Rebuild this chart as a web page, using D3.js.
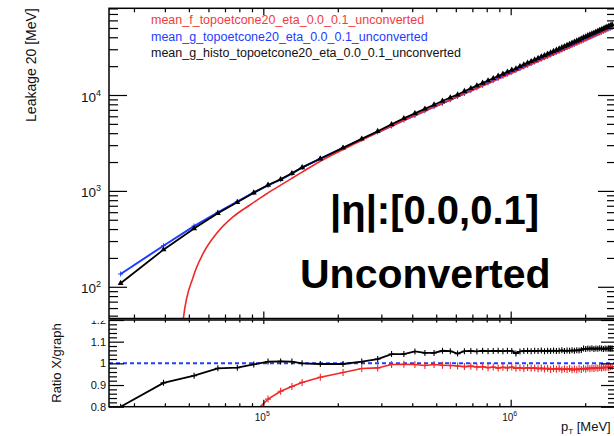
<!DOCTYPE html>
<html><head><meta charset="utf-8">
<script src="https://cdn.jsdelivr.net/npm/d3@7"></script>
<style>
body{margin:0;background:#fff;overflow:hidden}
svg{display:block;font-family:"Liberation Sans",Arial,Helvetica,sans-serif}
</style>
</head><body>
<svg id="c" width="614" height="436"></svg>
<script>
// ---------------- data (pT in MeV) ----------------
const pT = [26500,39500,52500,65500,78500,91500,104500,117500,130500,143500,
170000,210000,250000,290000,330000,370000,410000,450000,490000,530000,
570000,610000,650000,690000,730000,770000,810000,850000,890000,930000,
970000,1010000,1050000,1090000,1130000,1170000,1210000,1250000,1290000,1330000,
1370000,1410000,1450000,1490000,1530000,1570000,1610000,1650000,1690000,1730000,
1770000,1810000,1850000,1890000,1930000,1970000,2010000,2050000,2090000,2130000,
2170000,2210000,2250000,2290000,2330000,2370000,2410000,2450000,2490000,2530000,2570000];

// mean_g_topoetcone20 (blue graph)
const meanG = [136,268,430,598,775,962,1143,1309,1514,1754,
2174,2816,3457,4112,4746,5465,6105,6842,7550,8194,
8914,9637,10371,11112,11862,12612,13378,14137,14910,15690,
16467,17250,18042,18840,19645,20449,21257,22073,22889,23710,
24532,25362,26194,27027,27863,28709,29552,30404,31250,32111,
32983,33839,34705,35572,36443,37319,38198,39069,39953,40835,
41731,42611,43510,44394,45308,46185,47105,47995,48912,49801,50709];

// mean_g_histo_topoetcone20 (black)
const meanGHisto = [109,244,405,584,760,957,1152,1321,1526,1754,
2167,2808,3485,4194,4950,5700,6441,7170,7912,8669,
9413,10071,10952,11745,12514,13343,14127,14943,15775,16569,
17422,18233,18872,19876,20765,21635,22447,23353,24194,25109,
25906,26833,27687,28622,29451,30374,31325,32137,33094,33973,
34962,35802,36822,37671,38702,39857,40719,41765,42630,43693,
44485,45551,46425,47502,48389,49233,50355,51211,52336,53187,54208];

// mean_f_topoetcone20 (red function), sampled
const fitPt  = [46800,47500,52100,57200,64800,75600,88300,104500,117500,130500,143500,
170000,210000,250000,290000,330000,450000,610000,850000,1170000,1610000,2170000,2665000];
const fitVal = [25,46.6,127.5,224,361,538,713,954,1150,1355,1570,
2040,2700,3380,4050,4740,6800,9580,13900,20000,28800,40800,52050];

// ratio panel: X / graph
const ratioHisto = [0.800,0.910,0.943,0.977,0.980,0.995,1.008,1.009,1.008,1.000,
0.997,0.997,1.008,1.020,1.043,1.043,1.055,1.048,1.048,1.058,
1.056,1.045,1.056,1.057,1.055,1.058,1.056,1.057,1.058,1.056,
1.058,1.057,1.046,1.055,1.057,1.058,1.056,1.058,1.057,1.059,
1.056,1.058,1.057,1.059,1.057,1.058,1.060,1.057,1.059,1.058,
1.060,1.058,1.061,1.059,1.062,1.068,1.066,1.069,1.067,1.070,
1.066,1.069,1.067,1.070,1.068,1.066,1.069,1.067,1.070,1.068,1.069];
const ratioF = [null,null,0.31,0.62,0.74,0.77,0.835,0.871,0.893,0.912,
0.936,0.958,0.976,0.979,0.995,0.996,0.995,0.990,0.995,0.991,
0.990,0.988,0.985,0.987,0.983,0.985,0.980,0.983,0.978,0.982,
0.979,0.983,0.977,0.980,0.976,0.981,0.977,0.979,0.975,0.978,
0.974,0.977,0.972,0.976,0.973,0.977,0.971,0.975,0.972,0.976,
0.970,0.974,0.971,0.975,0.972,0.977,0.973,0.978,0.975,0.979,
0.976,0.980,0.977,0.981,0.978,0.982,0.980,0.983,0.981,0.984,0.985];
const ratioRef = 1.0;

// ticks & labels
const xMajor = [1e5, 1e6];
const xMajorExp = ["5", "6"];
const xMinor = [3e4,4e4,5e4,6e4,7e4,8e4,9e4,2e5,3e5,4e5,5e5,6e5,7e5,8e5,9e5,2e6];
const yMajor = [100, 1000, 10000];
const yMajorExp = ["2", "3", "4"];
const yMinor = [50,60,70,80,90,200,300,400,500,600,700,800,900,
2000,3000,4000,5000,6000,7000,8000,9000,20000,30000,40000,50000,60000,70000,80000];
const rMajor = [0.8, 0.9, 1.0, 1.1, 1.2];
const rMajorLabels = ["0.8", "0.9", "1", "1.1", "1.2"];
const rMinor = [0.82,0.84,0.86,0.88,0.92,0.94,0.96,0.98,1.02,1.04,1.06,1.08,1.12,1.14,1.16,1.18];

const legendLabels = ["mean_f_topoetcone20_eta_0.0_0.1_unconverted",
"mean_g_topoetcone20_eta_0.0_0.1_unconverted",
"mean_g_histo_topoetcone20_eta_0.0_0.1_unconverted"];
const legendColors = ["#f03c3c", "#1e3cff", "#111"];
const yTitle = "Leakage 20 [MeV]";
const rTitle = "Ratio X/graph";
const etaText = "|\u03b7|:[0.0,0.1]";
const convText = "Unconverted";

// ---------------- layout ----------------
const L = 109, R = 616, T = 8.3, B1 = 318.5, T2 = 320, B2 = 406.7;
const RED = "#f02828", BLUE = "#1f3cff";

const svg = d3.select("#c");
const x = d3.scaleLog().domain([23780, 2665000]).range([L, R]);
const y = d3.scaleLog().domain([46.7, 80200]).range([B1, T]);
const yr = d3.scaleLinear().domain([0.8, 1.2]).range([B2, T2]);

const defs = svg.append("defs");
defs.append("clipPath").attr("id", "cTop").append("rect").attr("x", L).attr("y", T).attr("width", R - L).attr("height", B1 - T);
defs.append("clipPath").attr("id", "cBot").append("rect").attr("x", L).attr("y", T2).attr("width", R - L).attr("height", B2 - T2);
defs.append("clipPath").attr("id", "cLbl").append("rect").attr("x", 0).attr("y", 320.8).attr("width", 614).attr("height", 120);

function axis(gen, scale, vals, size, tr) {
  svg.append("g").attr("transform", tr)
    .call(gen(scale).tickValues(vals).tickSize(size).tickSizeOuter(0).tickFormat(() => ""))
    .call(g => g.select(".domain").remove())
    .call(g => g.selectAll("line").attr("stroke", "#000").attr("stroke-width", 1.2));
}

// ---------------- top panel ----------------
const topG = svg.append("g").attr("clip-path", "url(#cTop)");
const pts = (vals) => pT.map((p, i) => [p, vals[i]]).filter(d => d[1] != null);
const lineXY = d3.line().x(d => x(d[0])).y(d => y(d[1]));

// blue graph
topG.append("path").datum(pts(meanG)).attr("d", lineXY).attr("fill", "none").attr("stroke", BLUE).attr("stroke-width", 2);
topG.selectAll(".bm").data(pts(meanG)).join("path")
  .attr("d", d => `M${x(d[0]) - 2.5},${y(d[1])}h5M${x(d[0])},${y(d[1]) - 2.5}v5`)
  .attr("stroke", BLUE).attr("stroke-width", 1);

// red function
topG.append("path").datum(fitPt.map((p, i) => [p, fitVal[i]]))
  .attr("d", d3.line().x(d => x(d[0])).y(d => y(d[1])).curve(d3.curveMonotoneX))
  .attr("fill", "none").attr("stroke", RED).attr("stroke-width", 1.6);

// black histo
topG.append("path").datum(pts(meanGHisto)).attr("d", lineXY).attr("fill", "none").attr("stroke", "#000").attr("stroke-width", 1.8);
topG.selectAll(".km").data(pts(meanGHisto)).join("path")
  .attr("transform", d => `translate(${x(d[0])},${y(d[1])})`)
  .attr("d", d3.symbol(d3.symbolTriangle).size(15)).attr("fill", "#000");

// axes top panel
axis(d3.axisRight, y, yMajor, 18, `translate(${L},0)`);
axis(d3.axisRight, y, yMinor, 9, `translate(${L},0)`);
axis(d3.axisLeft, y, yMajor, 18, `translate(${R},0)`);
axis(d3.axisLeft, y, yMinor, 9, `translate(${R},0)`);
axis(d3.axisBottom, x, xMajor, 7, `translate(0,${T})`);
axis(d3.axisBottom, x, xMinor, 4, `translate(0,${T})`);
axis(d3.axisTop, x, xMajor, 7, `translate(0,${B1})`);
axis(d3.axisTop, x, xMinor, 4, `translate(0,${B1})`);
svg.append("rect").attr("x", L).attr("y", T).attr("width", R - L).attr("height", B1 - T)
  .attr("fill", "none").attr("stroke", "#000").attr("stroke-width", 1.5);

// y labels
yMajor.forEach((v, i) => {
  const t = svg.append("text").attr("x", 101).attr("y", y(v) + 6.5).attr("text-anchor", "end").attr("fill", "#111");
  t.append("tspan").attr("font-size", 13.5).text("10");
  t.append("tspan").attr("font-size", 9).attr("dy", -6).text(yMajorExp[i]);
});
svg.append("text").attr("transform", `translate(35.5,${T}) rotate(-90)`).attr("text-anchor", "end")
  .attr("font-size", 14).attr("fill", "#111").text(yTitle);

// legend
legendLabels.forEach((s, i) => {
  svg.append("text").attr("x", 151).attr("y", [24.3, 40.5, 56.8][i]).attr("font-size", 12.5)
    .attr("fill", legendColors[i]).text(s);
});

// annotations
svg.append("text").attr("x", 330).attr("y", 224).attr("font-size", 40).attr("font-weight", "bold").attr("fill", "#000").text(etaText);
svg.append("text").attr("x", 300).attr("y", 288).attr("font-size", 41).attr("font-weight", "bold").attr("fill", "#000").text(convText);

// ---------------- ratio panel ----------------
const botG = svg.append("g").attr("clip-path", "url(#cBot)");
botG.append("line").attr("x1", L).attr("x2", R).attr("y1", yr(ratioRef)).attr("y2", yr(ratioRef))
  .attr("stroke", BLUE).attr("stroke-width", 2).attr("stroke-dasharray", "4,3");

const rline = d3.line().defined(d => d[1] != null).x(d => x(d[0])).y(d => yr(d[1]));
const rpts = (vals) => pT.map((p, i) => [p, vals[i]]);

botG.append("path").datum(rpts(ratioHisto)).attr("d", rline).attr("fill", "none").attr("stroke", "#000").attr("stroke-width", 1.8);
botG.selectAll(".kr").data(rpts(ratioHisto)).join("path")
  .attr("d", d => `M${x(d[0]) - 3},${yr(d[1])}h6M${x(d[0])},${yr(d[1]) - 3}v6`)
  .attr("stroke", "#000").attr("stroke-width", 1.1);

botG.append("path").datum(rpts(ratioF)).attr("d", rline).attr("fill", "none").attr("stroke", RED).attr("stroke-width", 1.6);
botG.selectAll(".rr").data(rpts(ratioF).filter(d => d[1] != null)).join("path")
  .attr("d", d => `M${x(d[0]) - 3},${yr(d[1])}h6M${x(d[0])},${yr(d[1]) - 3.5}v7`)
  .attr("stroke", RED).attr("stroke-width", 1.1);

axis(d3.axisRight, yr, rMajor, 15, `translate(${L},0)`);
axis(d3.axisRight, yr, rMinor, 8, `translate(${L},0)`);
axis(d3.axisLeft, yr, rMajor, 15, `translate(${R},0)`);
axis(d3.axisLeft, yr, rMinor, 8, `translate(${R},0)`);
axis(d3.axisTop, x, xMajor, 7, `translate(0,${B2})`);
axis(d3.axisTop, x, xMinor, 3.5, `translate(0,${B2})`);
axis(d3.axisBottom, x, xMajor, 4, `translate(0,${T2})`);
axis(d3.axisBottom, x, xMinor, 2.5, `translate(0,${T2})`);
svg.append("rect").attr("x", L).attr("y", T2).attr("width", R - L).attr("height", B2 - T2)
  .attr("fill", "none").attr("stroke", "#000").attr("stroke-width", 1.5);

const lblG = svg.append("g").attr("clip-path", "url(#cLbl)");
rMajor.forEach((v, i) => {
  lblG.append("text").attr("x", 106).attr("y", yr(v) + 4).attr("text-anchor", "end")
    .attr("font-size", 11).attr("fill", "#111").text(rMajorLabels[i]);
});
svg.append("text").attr("transform", `translate(61,363) rotate(-90)`).attr("text-anchor", "middle")
  .attr("font-size", 13).attr("fill", "#111").text(rTitle);

xMajor.forEach((v, i) => {
  const t = svg.append("text").attr("x", x(v) - 1).attr("y", 420.7).attr("text-anchor", "middle").attr("fill", "#111");
  t.append("tspan").attr("font-size", 10).text("10");
  t.append("tspan").attr("font-size", 7).attr("dy", -4.5).text(xMajorExp[i]);
});
const xt = svg.append("text").attr("x", 561).attr("y", 431).attr("fill", "#111").attr("font-size", 13);
xt.append("tspan").text("p");
xt.append("tspan").attr("font-size", 8).attr("dy", 3).text("T");
xt.append("tspan").attr("dy", -3).text(" [MeV]");
</script>
</body></html>
